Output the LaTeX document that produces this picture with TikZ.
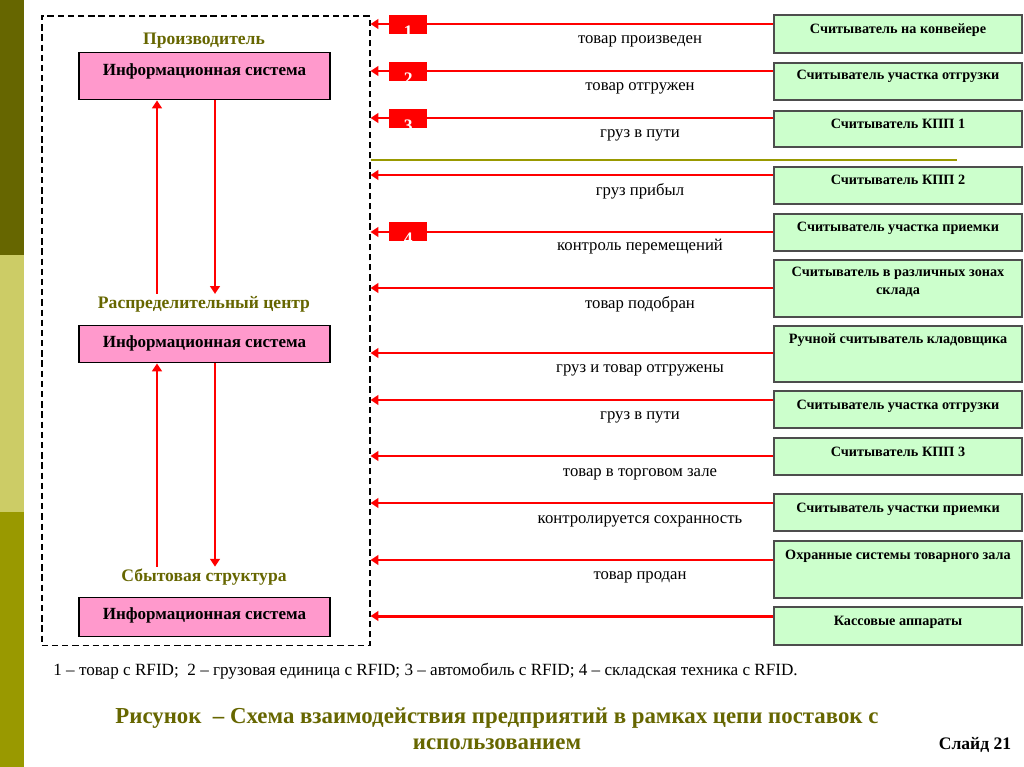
\documentclass[tikz,border=0pt]{standalone}
\usepackage{fontspec}
\setmainfont{Liberation Serif}
\usepackage{tikz}
\usetikzlibrary{arrows.meta,calc}

\definecolor{olivedark}{HTML}{666600}
\definecolor{olivelight}{HTML}{CCCC66}
\definecolor{olivemid}{HTML}{999900}
\definecolor{pinkfill}{HTML}{FF99CC}
\definecolor{readerfill}{HTML}{CCFFCC}
\definecolor{boxline}{HTML}{4D4D4D}

\begin{document}
\begin{tikzpicture}[x=0.02cm, y=-0.02cm,
    infosys/.style={draw=black, fill=pinkfill, line width=0.8pt, minimum width=5.02cm, anchor=north},
    reader/.style={draw=boxline, fill=readerfill, line width=1.1pt, minimum width=4.96cm, anchor=north},
    readertext/.style={font=\bfseries\fontsize{8.1}{10}\selectfont, align=center, inner sep=0pt},
    infotext/.style={font=\bfseries\fontsize{9.7}{12}\selectfont, inner sep=0pt},
    stage/.style={font=\bfseries\fontsize{10}{12}\selectfont, text=olivedark, inner sep=1pt},
    event/.style={font=\fontsize{9.5}{11}\selectfont, inner sep=0pt},
    signal/.style={draw=red, line width=1.7pt, -{Triangle[length=4.5pt,width=5.5pt]}},
    tag/.style={fill=red, minimum width=0.76cm, minimum height=0.38cm, inner sep=0pt, anchor=north west,
      path picture={\node[text=white, font=\bfseries\fontsize{10}{11}\selectfont, anchor=base]
        at ($(path picture bounding box.south)+(0,3)$) {#1};}}
  ]
   \useasboundingbox (0,0) rectangle (1024,767);

   % side bar
   \fill[olivedark] (0,0) rectangle (24,255);
   \fill[olivelight] (0,255) rectangle (24,512);
   \fill[olivemid] (0,512) rectangle (24,767);

   \node[draw=black, dash pattern=on 3.6pt off 2.2pt, line width=0.9pt,
     minimum width=6.56cm, minimum height=12.6cm, anchor=north west, inner sep=0pt] (frame) at (41,15) {};

   \node[stage] (st1) at (204,41) {Производитель};
   \node[infosys, minimum height=0.94cm] (is1) at (204.5,52) {};
   \node[infotext] (it1) at ($(is1.north)+(0,19)$) {Информационная система};

   \node[stage] (st2) at (204,304) {Распределительный центр};
   \node[infosys, minimum height=0.74cm] (is2) at (204.5,325) {};
   \node[infotext] (it2) at ($(is2.north)+(0,18)$) {Информационная система};

   \node[stage] (st3) at (204,577) {Сбытовая структура};
   \node[infosys, minimum height=0.78cm] (is3) at (204.5,597) {};
   \node[infotext] (it3) at ($(is3.north)+(0,18)$) {Информационная система};

   \draw[signal] (st2.north -| 157,0) -- (is1.south -| 157,0);
   \draw[signal] (is1.south -| 215,0) -- (st2.north -| 215,0);
   \draw[signal] (st3.north -| 157,0) -- (is2.south -| 157,0);
   \draw[signal] (is2.south -| 215,0) -- (st3.north -| 215,0);

   % readers
   \node[reader, minimum height=0.76cm] (r1) at (898,14) {};
   \node[readertext] (t1) at ($(r1.north)+(0,16)$) {Считыватель на конвейере};
   \node[reader, minimum height=0.74cm] (r2) at (898,62) {};
   \node[readertext] (t2) at ($(r2.north)+(0,14)$) {Считыватель участка отгрузки};
   \node[reader, minimum height=0.72cm] (r3) at (898,110) {};
   \node[readertext] (t3) at ($(r3.north)+(0,14)$) {Считыватель КПП 1};
   \node[reader, minimum height=0.74cm] (r4) at (898,166) {};
   \node[readertext] (t4) at ($(r4.north)+(0,14)$) {Считыватель КПП 2};
   \node[reader, minimum height=0.74cm] (r5) at (898,213) {};
   \node[readertext] (t5) at ($(r5.north)+(0,15)$) {Считыватель участка приемки};
   \node[reader, minimum height=1.14cm] (r6) at (898,259) {};
   \node[readertext] (t6) at ($(r6.north)+(0,23)$) {Считыватель в различных зонах\\склада};
   \node[reader, minimum height=1.12cm] (r7) at (898,325) {};
   \node[readertext] (t7) at ($(r7.north)+(0,15)$) {Ручной считыватель кладовщика};
   \node[reader, minimum height=0.74cm] (r8) at (898,390) {};
   \node[readertext] (t8) at ($(r8.north)+(0,16)$) {Считыватель участка отгрузки};
   \node[reader, minimum height=0.74cm] (r9) at (898,437) {};
   \node[readertext] (t9) at ($(r9.north)+(0,15)$) {Считыватель КПП 3};
   \node[reader, minimum height=0.74cm] (r10) at (898,493) {};
   \node[readertext] (t10) at ($(r10.north)+(0,16)$) {Считыватель участки приемки};
   \node[reader, minimum height=1.14cm] (r11) at (898,540) {};
   \node[readertext] (t11) at ($(r11.north)+(0,16)$) {Охранные системы товарного зала};
   \node[reader, minimum height=0.76cm] (r12) at (898,606) {};
   \node[readertext] (t12) at ($(r12.north)+(0,16)$) {Кассовые аппараты};

   \draw[signal] (r1.west |- 0,24) -- (frame.east |- 0,24);
   \draw[signal] (r2.west |- 0,71) -- (frame.east |- 0,71);
   \draw[signal] (r3.west |- 0,118) -- (frame.east |- 0,118);
   \draw[signal] (r4.west |- 0,175) -- (frame.east |- 0,175);
   \draw[signal] (r5.west |- 0,232) -- (frame.east |- 0,232);
   \draw[signal] (r6.west |- 0,288) -- (frame.east |- 0,288);
   \draw[signal] (r7.west |- 0,353) -- (frame.east |- 0,353);
   \draw[signal] (r8.west |- 0,400) -- (frame.east |- 0,400);
   \draw[signal] (r9.west |- 0,456) -- (frame.east |- 0,456);
   \draw[signal] (r10.west |- 0,503) -- (frame.east |- 0,503);
   \draw[signal] (r11.west |- 0,560) -- (frame.east |- 0,560);
   \draw[signal] (r12.west |- 0,616) -- (frame.east |- 0,616);

   \node[tag=1] (g1) at (389,15) {};
   \node[tag=2] (g2) at (389,62) {};
   \node[tag=3] (g3) at (389,109) {};
   \node[tag=4] (g4) at (389,222) {};

   \draw[olivemid, line width=1.3pt] (frame.east |- 0,160) -- (957,160);

   \node[event] (e1) at (640,41) {товар произведен};
   \node[event] (e2) at (640,88) {товар отгружен};
   \node[event] (e3) at (640,135) {груз в пути};
   \node[event] (e4) at (640,191) {груз прибыл};
   \node[event] (e5) at (640,247) {контроль перемещений};
   \node[event] (e6) at (640,304) {товар подобран};
   \node[event] (e7) at (640,370) {груз и товар отгружены};
   \node[event] (e8) at (640,417) {груз в пути};
   \node[event] (e9) at (640,474) {товар в торговом зале};
   \node[event] (e10) at (640,521) {контролируется сохранность};
   \node[event] (e11) at (640,577) {товар продан};

   \node[font=\fontsize{9.75}{11}\selectfont, anchor=west, inner sep=0pt] (legend) at (53,671)
     {1 – товар с RFID;\ \ 2 – грузовая единица с RFID; 3 – автомобиль с RFID; 4 – складская техника с RFID.};

   \node[font=\bfseries\fontsize{13}{14.7}\selectfont, text=olivedark, align=center] (caption) at (497,729)
     {Рисунок\ \ – Схема взаимодействия предприятий в рамках цепи поставок с\\использованием};

   \node[font=\bfseries\fontsize{10}{12}\selectfont] (slide) at (975,745) {Слайд 21};
  \end{tikzpicture}
\end{document}
